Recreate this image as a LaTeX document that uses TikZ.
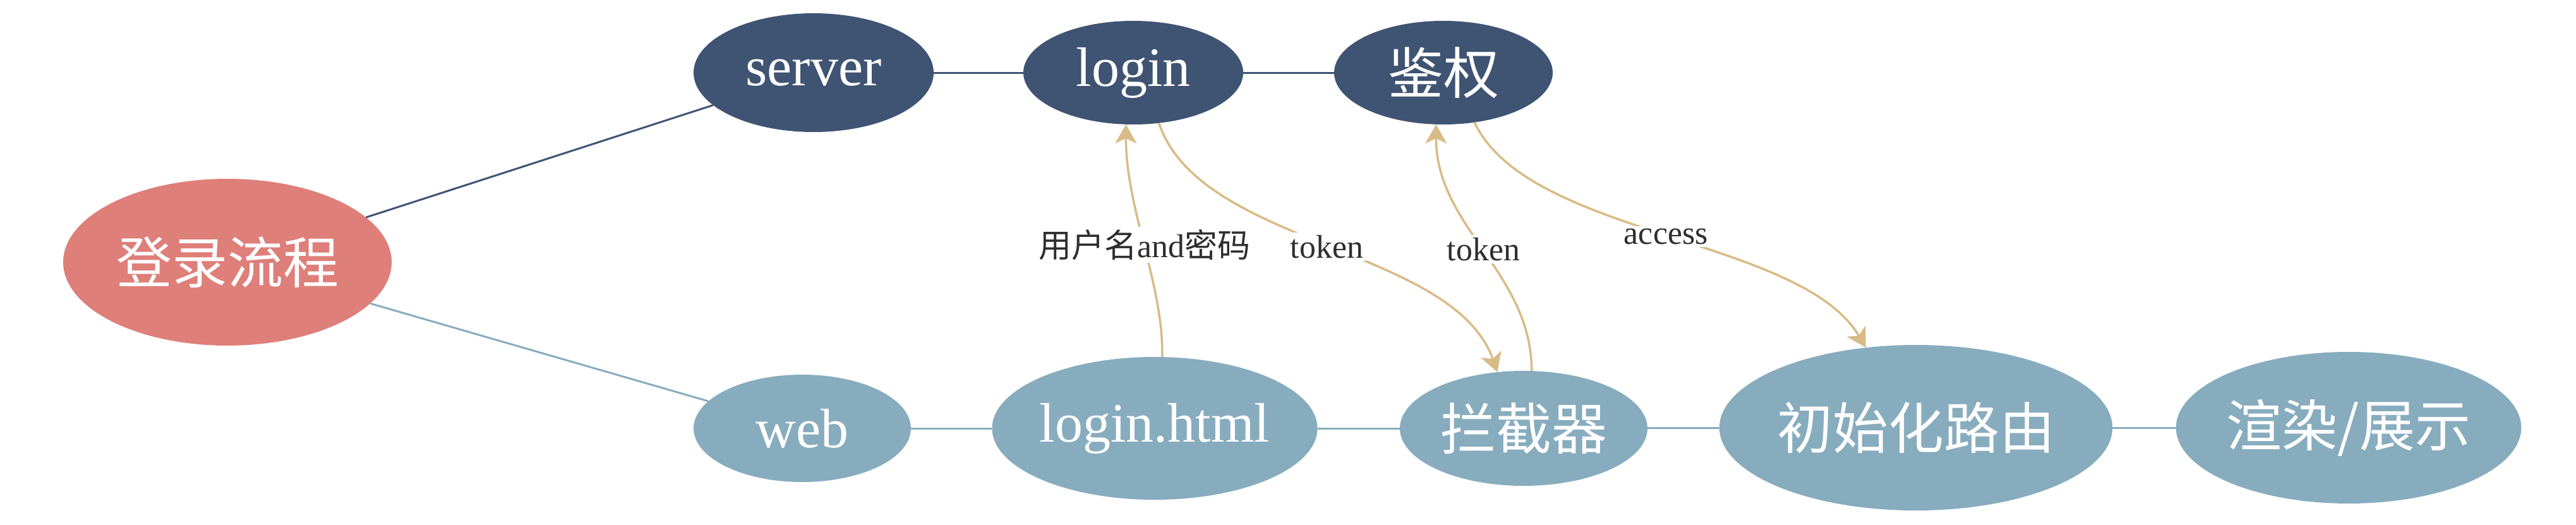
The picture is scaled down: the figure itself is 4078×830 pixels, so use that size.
\documentclass[tikz,border=0pt]{standalone}
\usepackage{fontspec}
\setmainfont{Liberation Serif}
\newfontfamily\cjk{Noto Sans CJK SC}
\usetikzlibrary{shapes.geometric,arrows.meta}
\definecolor{navy}{HTML}{3F5472}
\definecolor{pinkc}{HTML}{DE7F7A}
\definecolor{lblue}{HTML}{87ACBE}
\definecolor{gold}{HTML}{D9BB86}
\definecolor{labtxt}{HTML}{2E2E2E}
\tikzset{
  ell/.style={ellipse, inner sep=0pt, text=white, font=\fontsize{88}{88}\selectfont},
  navyell/.style={ell, fill=navy},
  blueell/.style={ell, fill=lblue},
  pinkell/.style={ell, fill=pinkc},
  navyline/.style={draw=navy, line width=3pt},
  blueline/.style={draw=lblue, line width=3pt},
  flow/.style={draw=gold, line width=3.5pt, -{Stealth[length=30pt,width=34pt,inset=8pt]}},
  lab/.style={fill=white, inner sep=4pt, text=labtxt, font=\fontsize{52}{52}\selectfont}
}
\begin{document}
\begin{tikzpicture}[x=1pt,y=-1pt]
\useasboundingbox (0,0) rectangle (4078,830);
\node[pinkell, minimum width=520pt, minimum height=264pt] (main) at (360,415) {\cjk 登录流程};
\node[navyell, minimum width=380pt, minimum height=188pt] (server) at (1288,115) {server};
\node[navyell, minimum width=348pt, minimum height=164pt] (login) at (1794,115) {login};
\node[navyell, minimum width=346pt, minimum height=164pt] (auth) at (2285,115) {\cjk 鉴权};
\node[blueell, minimum width=344pt, minimum height=170pt] (web) at (1270,678) {web};
\node[blueell, minimum width=490pt, minimum height=226pt] (lh) at (1828,678) {login.html};
\node[blueell, minimum width=392pt, minimum height=182pt] (icpt) at (2412,678) {\cjk 拦截器};
\node[blueell, minimum width=568pt, minimum height=262pt] (route) at (3033,677) {\cjk 初始化路由};
\node[blueell, minimum width=522pt, minimum height=240pt] (render) at (3718,677) {\cjk 渲染/展示};

\path[navyline] (main) -- (server);
\path[blueline] (main) -- (web);
\path[navyline] (server) -- (login);
\path[navyline] (login) -- (auth);
\path[blueline] (web) -- (lh);
\path[blueline] (lh) -- (icpt);
\path[blueline] (icpt) -- (route);
\path[blueline] (route) -- (render);

\path[flow] (lh.84) .. controls (1842,450) and (1782,330) .. node[lab, pos=0.5] {{\cjk 用户名}and{\cjk 密码}} (login.262);
\path[flow] (login.-63) .. controls (1900,390) and (2300,390) .. node[lab, pos=0.5] {token} (icpt.115);
\path[flow] (icpt.82) .. controls (2424,430) and (2273,360) .. node[lab, pos=0.5] {token} (auth.262);
\path[flow] (auth.-58) .. controls (2420,375) and (2850,375) .. node[lab, pos=0.5] {access} (route.122);
\end{tikzpicture}
\end{document}
